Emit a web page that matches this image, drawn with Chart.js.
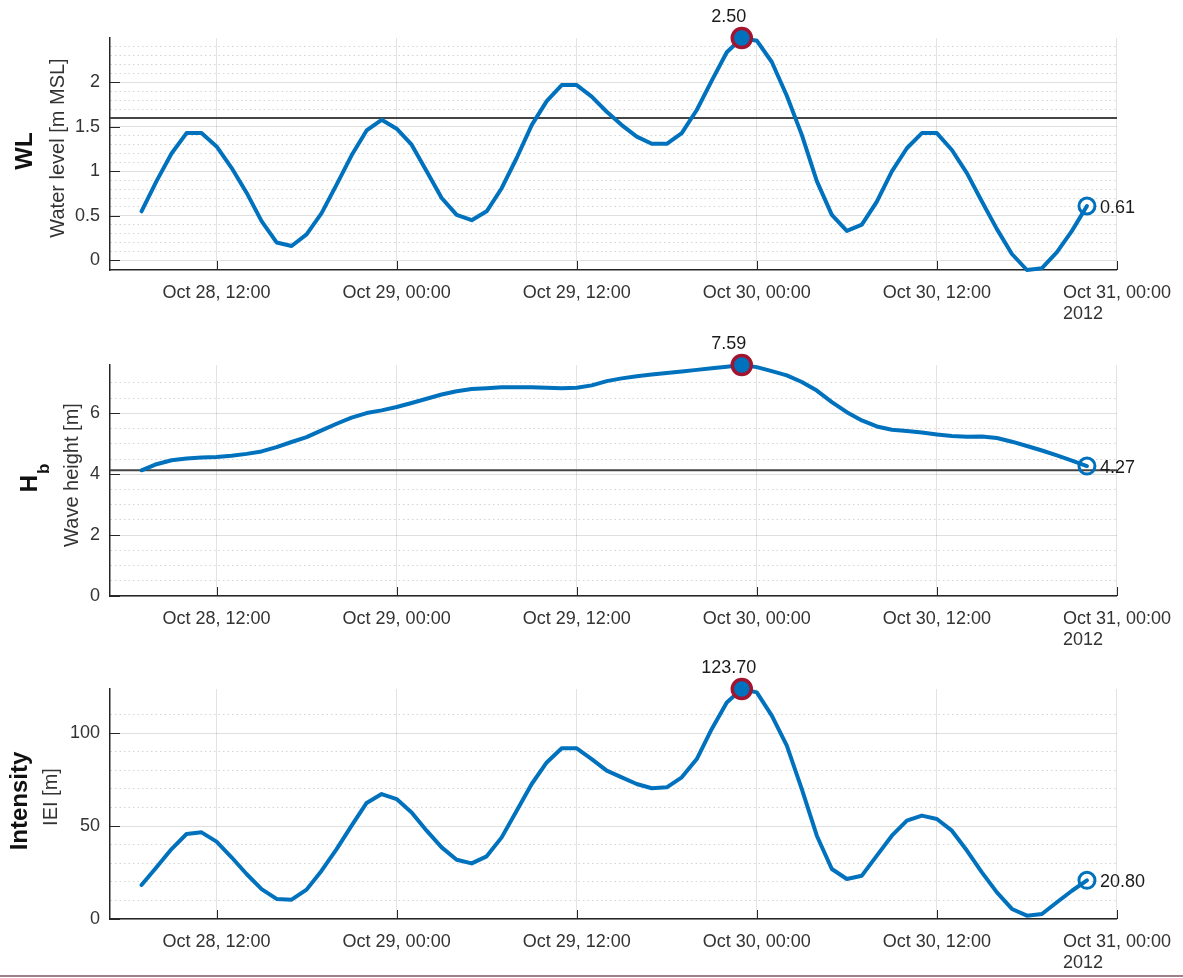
<!DOCTYPE html>
<html>
<head>
<meta charset="utf-8">
<script src="https://cdn.jsdelivr.net/npm/chart.js@4.4.1/dist/chart.umd.min.js"></script>
<style>
  body { margin: 0; background: #fff; width: 1183px; height: 978px; position: relative; overflow: hidden; }
  canvas { position: absolute; left: 0; }
  #edge { position: absolute; left: 0; top: 975px; width: 1183px; height: 2px; background: #a08088; }
</style>
</head>
<body>
<canvas id="wlChart" width="1183" height="320" style="top:0px"></canvas>
<canvas id="hbChart" width="1183" height="326" style="top:320px"></canvas>
<canvas id="ieiChart" width="1183" height="332" style="top:646px"></canvas>
<div id="edge"></div>
<script>
// hours since Oct 28 2012, 00:00
const hours = [7, 8, 9, 10, 11, 12, 13, 14, 15, 16,
  17, 18, 19, 20, 21, 22, 23, 24, 25, 26,
  27, 28, 29, 30, 31, 32, 33, 34, 35, 36,
  37, 38, 39, 40, 41, 42, 43, 44, 45, 46,
  47, 48, 49, 50, 51, 52, 53, 54, 55, 56,
  57, 58, 59, 60, 61, 62, 63, 64, 65, 66,
  67, 68, 69, 70];

const waterLevel = [0.55, 0.89, 1.20, 1.43, 1.43, 1.28, 1.04, 0.76, 0.44, 0.20,
  0.16, 0.29, 0.53, 0.85, 1.18, 1.46, 1.58, 1.48, 1.30, 1.00,
  0.70, 0.51, 0.45, 0.55, 0.81, 1.15, 1.52, 1.79, 1.97, 1.97,
  1.84, 1.67, 1.52, 1.39, 1.31, 1.31, 1.43, 1.69, 2.02, 2.34,
  2.50, 2.47, 2.23, 1.85, 1.41, 0.89, 0.51, 0.33, 0.40, 0.66,
  1.00, 1.26, 1.43, 1.43, 1.24, 0.98, 0.66, 0.35, 0.07, -0.11,
  -0.09, 0.09, 0.33, 0.61];

const waveHeight = [4.13, 4.33, 4.46, 4.52, 4.55, 4.57, 4.61, 4.67, 4.75, 4.89,
  5.06, 5.22, 5.44, 5.66, 5.86, 6.01, 6.10, 6.21, 6.34, 6.48,
  6.62, 6.73, 6.80, 6.83, 6.86, 6.86, 6.86, 6.84, 6.83, 6.84,
  6.92, 7.06, 7.15, 7.22, 7.28, 7.33, 7.38, 7.43, 7.48, 7.53,
  7.59, 7.52, 7.39, 7.25, 7.03, 6.75, 6.37, 6.04, 5.77, 5.57,
  5.46, 5.42, 5.37, 5.31, 5.26, 5.23, 5.24, 5.19, 5.07, 4.93,
  4.78, 4.62, 4.45, 4.27];

const intensity = [18.3, 27.8, 37.6, 45.7, 46.6, 41.6, 33.2, 24.2, 16.1, 10.8,
  10.4, 15.8, 26.0, 37.6, 50.2, 62.4, 67.2, 64.5, 57.3, 47.5,
  38.5, 31.9, 29.9, 33.7, 43.9, 58.2, 72.6, 84.2, 91.8, 91.8,
  86.0, 79.8, 76.2, 72.6, 70.3, 70.8, 76.2, 86.0, 102.2, 116.4,
  123.7, 121.9, 109.4, 93.2, 69.9, 44.8, 26.9, 21.5, 23.3, 34.1,
  44.8, 52.9, 55.6, 53.8, 47.5, 36.8, 25.1, 14.3, 5.4, 1.8,
  2.7, 9.0, 15.2, 20.8];

const xTickHours = [12, 24, 36, 48, 60, 72];
const xTickLabels = ['Oct 28, 12:00', 'Oct 29, 00:00', 'Oct 29, 12:00',
  'Oct 30, 00:00', 'Oct 30, 12:00', 'Oct 31, 00:00'];
const yearLabel = '2012';

const wlThreshold = 1.6;
const hbThreshold = 4.13;

const X_MIN = 4.9, X_MAX = 72;
const BLUE = '#0072bd';
const RED = '#a2142f';
const TEXT = '#333333';
const FAMILY = '"Liberation Sans", Arial, Helvetica, sans-serif';

const isMajor = (v, m) => Math.abs(v / m - Math.round(v / m)) < 1e-6;

function vText(ctx, text, x, y, font, color) {
  ctx.save();
  ctx.translate(x, y);
  ctx.rotate(-Math.PI / 2);
  ctx.font = font;
  ctx.fillStyle = color;
  ctx.textAlign = 'center';
  ctx.textBaseline = 'middle';
  ctx.fillText(text, 0, 0);
  ctx.restore();
}

function decor(p, values) {
  const iMax = values.indexOf(Math.max(...values));
  const iEnd = values.length - 1;
  return {
    id: 'decor',
    afterDraw(chart) {
      const { ctx, chartArea: a } = chart;
      const x = chart.scales.x, y = chart.scales.y;
      ctx.save();

      // inward tick marks (matlab style)
      ctx.strokeStyle = '#262626';
      ctx.lineWidth = 1;
      ctx.beginPath();
      x.ticks.forEach(t => {
        const px = Math.round(x.getPixelForValue(t.value)) + 0.5;
        ctx.moveTo(px, a.bottom);
        ctx.lineTo(px, a.bottom - 9);
      });
      y.ticks.forEach(t => {
        if (!isMajor(t.value, p.major)) return;
        const py = Math.round(y.getPixelForValue(t.value)) + 0.5;
        ctx.moveTo(a.left, py);
        ctx.lineTo(a.left + 10, py);
      });
      ctx.stroke();

      // year under the last date label
      ctx.font = '18px ' + FAMILY;
      ctx.fillStyle = TEXT;
      const last = xTickLabels[xTickLabels.length - 1];
      const lx = x.getPixelForValue(xTickHours[xTickHours.length - 1]) - ctx.measureText(last).width / 2;
      ctx.textAlign = 'left';
      ctx.textBaseline = 'top';
      ctx.fillText(yearLabel, lx, a.bottom + 35);

      // peak and last value labels
      const meta = chart.getDatasetMeta(0);
      const pm = meta.data[iMax], pe = meta.data[iEnd];
      ctx.fillStyle = '#1a1a1a';
      ctx.textAlign = 'center';
      ctx.textBaseline = 'bottom';
      ctx.fillText(values[iMax].toFixed(2), pm.x - 13, pm.y - 12);
      ctx.textAlign = 'left';
      ctx.textBaseline = 'middle';
      ctx.fillText(values[iEnd].toFixed(2), pe.x + 13, pe.y + 2);

      // y labels
      p.titles.forEach(t => vText(ctx, t.text, t.x, t.y, t.font, t.color));
      if (p.sub) {
        const s = p.sub;
        ctx.translate(s.x, s.y);
        ctx.rotate(-Math.PI / 2);
        ctx.fillStyle = '#111';
        ctx.textAlign = 'left';
        ctx.textBaseline = 'alphabetic';
        ctx.font = 'bold 24px ' + FAMILY;
        const wMain = ctx.measureText(s.main).width;
        ctx.font = 'bold 17px ' + FAMILY;
        const wSub = ctx.measureText(s.sub).width;
        const x0 = -(wMain + wSub + 1) / 2;
        ctx.font = 'bold 24px ' + FAMILY;
        ctx.fillText(s.main, x0, 0);
        ctx.font = 'bold 17px ' + FAMILY;
        ctx.fillText(s.sub, x0 + wMain + 1, 12);
      }
      ctx.restore();
    }
  };
}

function buildChart(id, values, p) {
  const iMax = values.indexOf(Math.max(...values));
  const iEnd = values.length - 1;
  const datasets = [{
    data: hours.map((h, i) => ({ x: h, y: values[i] })),
    borderColor: BLUE,
    borderWidth: 4,
    borderJoinStyle: 'round',
    borderCapStyle: 'round',
    tension: 0,
    clip: false,
    order: 1,
    pointRadius: c => c.dataIndex === iMax ? 9.5 : (c.dataIndex === iEnd ? 8 : 0),
    pointBorderWidth: c => c.dataIndex === iMax ? 3.5 : 3,
    pointBorderColor: c => c.dataIndex === iMax ? RED : BLUE,
    pointBackgroundColor: c => c.dataIndex === iMax ? BLUE : 'rgba(255,255,255,0)'
  }];
  if (p.threshold !== undefined) {
    datasets.push({
      data: [{ x: X_MIN, y: p.threshold }, { x: X_MAX, y: p.threshold }],
      borderColor: '#444444',
      borderWidth: 2,
      pointRadius: 0,
      order: 2
    });
  }

  return new Chart(document.getElementById(id), {
    type: 'line',
    data: { datasets },
    options: {
      responsive: false,
      animation: false,
      layout: { padding: { top: p.padTop, right: 62, left: 0, bottom: 0 } },
      plugins: { legend: { display: false }, tooltip: { enabled: false } },
      scales: {
        x: {
          type: 'linear',
          min: X_MIN,
          max: X_MAX,
          afterFit: s => { s.height = p.xHeight; },
          afterBuildTicks: s => { s.ticks = xTickHours.map(v => ({ value: v })); },
          ticks: {
            autoSkip: false,
            maxRotation: 0,
            padding: 12,
            color: TEXT,
            font: { family: FAMILY, size: 18 },
            callback: v => {
              const i = xTickHours.indexOf(v);
              return i >= 0 ? xTickLabels[i] : '';
            }
          },
          grid: { color: 'rgba(38,38,38,0.13)', drawTicks: false },
          border: { color: '#262626', width: 1.5 }
        },
        y: {
          min: p.min,
          max: p.max,
          afterFit: s => { s.width = 110; },
          afterBuildTicks: s => {
            s.ticks = s.ticks.filter(t => t.value >= p.tickLo - 1e-9 && t.value <= p.tickHi + 1e-9);
          },
          ticks: {
            stepSize: p.minor,
            autoSkip: false,
            padding: 10,
            color: TEXT,
            font: { family: FAMILY, size: 18 },
            callback: v => isMajor(v, p.major) ? String(Math.round(v * 1000) / 1000) : ''
          },
          grid: {
            drawTicks: false,
            color: c => c.tick && isMajor(c.tick.value, p.major) ? 'rgba(38,38,38,0.15)' : 'rgba(38,38,38,0.2)'
          },
          border: {
            color: '#262626',
            width: 1.5,
            dash: c => (c.type === 'tick' && c.tick && !isMajor(c.tick.value, p.major)) ? [1.5, 3] : []
          }
        }
      }
    },
    plugins: [decor(p, values)]
  });
}

const BOLD = 'bold 24px ' + FAMILY;
const REG = '20px ' + FAMILY;

buildChart('wlChart', waterLevel, {
  min: -0.11, max: 2.5, minor: 0.1, major: 0.5, tickLo: -0.05, tickHi: 2.45,
  threshold: wlThreshold, padTop: 38, xHeight: 50,
  titles: [
    { text: 'WL', x: 25, y: 151, font: BOLD, color: '#111' },
    { text: 'Water level [m MSL]', x: 58, y: 148, font: REG, color: TEXT }
  ]
});

buildChart('hbChart', waveHeight, {
  min: 0, max: 7.59, minor: 0.5, major: 2, tickLo: 0, tickHi: 7.5,
  threshold: hbThreshold, padTop: 45, xHeight: 50,
  titles: [
    { text: 'Wave height [m]', x: 72, y: 155, font: REG, color: TEXT }
  ],
  sub: { main: 'H', sub: 'b', x: 37, y: 158 }
});

buildChart('ieiChart', intensity, {
  min: 0, max: 123.7, minor: 10, major: 50, tickLo: 0, tickHi: 120,
  padTop: 43, xHeight: 59,
  titles: [
    { text: 'Intensity', x: 20, y: 155, font: BOLD, color: '#111' },
    { text: 'IEI [m]', x: 51, y: 151, font: REG, color: TEXT }
  ]
});
</script>
</body>
</html>
